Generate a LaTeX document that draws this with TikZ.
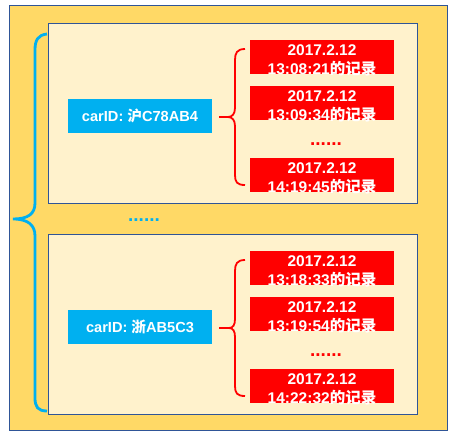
\documentclass[tikz,border=0pt]{standalone}
\usepackage{fontspec}
\setmainfont{Liberation Sans}
\newfontfamily\cjk{Noto Sans CJK SC}
\definecolor{outerfill}{HTML}{FFD966}
\definecolor{innerfill}{HTML}{FFF2CC}
\definecolor{edgeblue}{HTML}{2F5597}
\definecolor{carblue}{HTML}{00B0F0}
\definecolor{recred}{HTML}{FF0000}
\tikzset{
  outerbox/.style={draw=edgeblue, line width=1pt, fill=outerfill},
  innerbox/.style={draw=edgeblue, line width=0.9pt, fill=innerfill},
  carbox/.style={fill=carblue, minimum width=144pt, minimum height=34pt, inner sep=0pt,
    text=white, font=\bfseries\fontsize{14.6}{16}\selectfont},
  recbox/.style={fill=recred, minimum width=144pt, minimum height=34pt, inner sep=0pt},
  rectext/.style={text=white, align=center, inner sep=0pt, anchor=north,
    font=\bfseries\fontsize{15.5}{19}\selectfont},
  reddots/.style={text=recred, inner sep=0pt, font=\bfseries\fontsize{19}{20}\selectfont},
  bluedots/.style={text=carblue, inner sep=0pt, font=\bfseries\fontsize{19}{20}\selectfont},
  redbrace/.style={draw=recred, line width=1.8pt},
  bluebrace/.style={draw=carblue, line width=2.8pt},
}
\begin{document}
\begin{tikzpicture}[x=1pt,y=-1pt]
\useasboundingbox (0,0) rectangle (456,437);
% outer frame
\draw[outerbox] (9.5,5) rectangle (447,430);
% inner groups
\draw[innerbox] (48.3,23.3) rectangle (417.7,203.3);
\draw[innerbox] (48.3,234.3) rectangle (417.7,414);

% group 1
\node[carbox] (c1) at (140,116) {carID: {\cjk 沪}C78AB4};
\node[recbox] (r11) at (322,57) {};
\node[rectext] (t11) at (322,44.5) {2017.2.12\\13:08:21{\cjk 的记录}};
\node[recbox] (r12) at (322,103) {};
\node[rectext] (t12) at (322,90.5) {2017.2.12\\13:09:34{\cjk 的记录}};
\node[reddots] (d1) at (326,144) {......};
\node[recbox] (r13) at (322,174.7) {};
\node[rectext] (t13) at (322,162.2) {2017.2.12\\14:19:45{\cjk 的记录}};
\coordinate (k1) at (228,117);
\draw[redbrace] (c1.east) ++(7,1) -- (k1)
  .. controls (232,117) and (235,114) .. (235,108) -- (235,60)
  .. controls (235,53) and (237,49) .. (245,49);
\draw[redbrace] (k1)
  .. controls (232,117) and (235,120) .. (235,126) -- (235,175)
  .. controls (235,182) and (237,185) .. (245,185);

% group 2
\node[carbox] (c2) at (140,327) {carID: {\cjk 浙}AB5C3};
\node[recbox] (r21) at (322,268) {};
\node[rectext] (t21) at (322,255.5) {2017.2.12\\13:18:33{\cjk 的记录}};
\node[recbox] (r22) at (322,314) {};
\node[rectext] (t22) at (322,301.5) {2017.2.12\\13:19:54{\cjk 的记录}};
\node[reddots] (d2) at (326,355) {......};
\node[recbox] (r23) at (322,386) {};
\node[rectext] (t23) at (322,373.5) {2017.2.12\\14:22:32{\cjk 的记录}};
\coordinate (k2) at (229,328);
\draw[redbrace] (c2.east) ++(7,1) -- (k2)
  .. controls (233,328) and (235,325) .. (235,319) -- (235,271)
  .. controls (235,264) and (237,260) .. (245,260);
\draw[redbrace] (k2)
  .. controls (233,328) and (235,331) .. (235,337) -- (235,386)
  .. controls (235,393) and (237,396) .. (245,396);

% middle dots
\node[bluedots] (d0) at (144,220) {......};

% big blue brace
\coordinate (kb) at (13,219);
\draw[bluebrace] (47,34) .. controls (38,35) and (35,40) .. (35,50) -- (35,203)
  .. controls (35,214) and (28,219) .. (kb)
  .. controls (28,219) and (35,225) .. (35,236) -- (35,398)
  .. controls (35,407) and (38,411) .. (47,411);
\end{tikzpicture}
\end{document}
